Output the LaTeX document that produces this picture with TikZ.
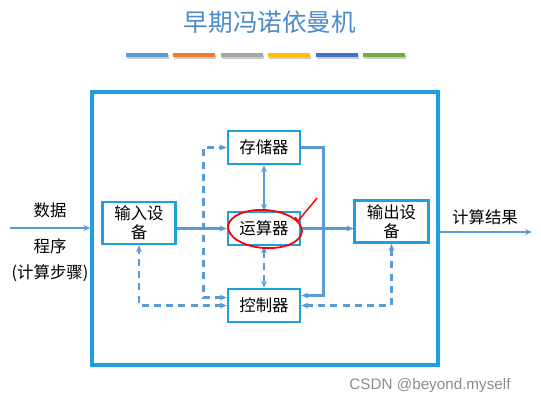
\documentclass[tikz,border=0pt]{standalone}
\usepackage{fontspec}
\setmainfont{Noto Sans CJK SC}
\newfontfamily\wmfont{Liberation Sans}
\usetikzlibrary{arrows.meta,calc}
\definecolor{boxblue}{HTML}{1D9FE0}
\definecolor{linkblue}{HTML}{5B9BD5}
\definecolor{titleblue}{HTML}{4A8CCB}
\definecolor{barblue}{HTML}{5B9BD5}
\definecolor{barorange}{HTML}{ED7D31}
\definecolor{bargray}{HTML}{A5A5A5}
\definecolor{bargold}{HTML}{FFC000}
\definecolor{bardark}{HTML}{4472C4}
\definecolor{bargreen}{HTML}{70AD47}

\begin{document}
\begin{tikzpicture}[x=0.03cm, y=-0.03cm, font=\fontsize{14}{16}\selectfont, >={Stealth[length=6pt,width=5pt]},
	unit/.style={draw=boxblue, line width=2.3pt, minimum width=2.16cm, minimum height=0.99cm, inner sep=1pt, align=center},
	iounit/.style={unit, minimum width=2.2cm, minimum height=1.26cm, text width=2cm},
	link/.style={draw=linkblue, line width=2pt},
	ctrl/.style={link, dashed, dash pattern=on 6pt off 4.5pt}]
			\useasboundingbox (0,0) rectangle (541,407);
			\node[text=titleblue, font=\fontsize{21}{24}\selectfont] (title) at (270,22) {早期冯诺依曼机};
			\foreach \c [count=\i] in {barblue,barorange,bargray,bargold,bardark,bargreen}{
				\fill[black!20] ({127+(\i-1)*47.4},54.5) rectangle ++(42,4);
				\fill[\c] ({126+(\i-1)*47.4},53) rectangle ++(42,4);
			}
			\node[draw=boxblue, line width=2.8pt, minimum width=10.38cm, minimum height=8.19cm] (host) at (265,228.5) {};
			\node[unit] (mem) at (264,147.5) {存储器};
			\node[unit] (alu) at (264,228.5) {运算器};
			\node[unit] (cu) at (264,305.5) {控制器};
			\node[iounit] (in) at (139,223) {输入设\\备};
			\node[iounit] (out) at (391.5,221.5) {输出设\\备};
			\draw[link,->] (in.east |- alu.west) -- (alu.west);
			\draw[link,->] (alu.east) -- (alu.east -| out.west);
			\draw[link,<->] (mem) -- (alu);
			\draw[ctrl,<->] (alu) -- (cu);
			\draw[link,->] (mem.east) -- ++(22,0) |- ($(cu.east)+(0,-10)$);
			\draw[ctrl,<->] ($(cu.west)+(0,-8)$) -| ($(mem.west)+(-23,0)$) -- (mem.west);
			\draw[ctrl,<->] (cu.west) -| (in.south);
			\draw[ctrl,<->] (cu.east) -| (out.south);
			\coordinate (src) at (10,228);
			\coordinate (dst) at (532,232);
			\draw[link,->] (src) -- (host.west |- src);
			\draw[link,->] (host.east |- dst) -- (dst);
			\node (data) at (50,210) {数据};
			\node (prog) at (50,246) {程序};
			\node (steps) at (50,273) {(计算步骤)};
			\node (result) at (485,217) {计算结果};
			\draw[red, line width=1.5pt, rotate around={-4:(265,229)}] (265,229) ellipse [x radius=37, y radius=19];
			\draw[red, line width=1.2pt] (295,217) -- (298,221) -- (317,198);
			\node[text=black!45, font=\wmfont\fontsize{13}{15}\selectfont] (mark) at (430,386) {CSDN @beyond.myself};
	\end{tikzpicture}
\end{document}
